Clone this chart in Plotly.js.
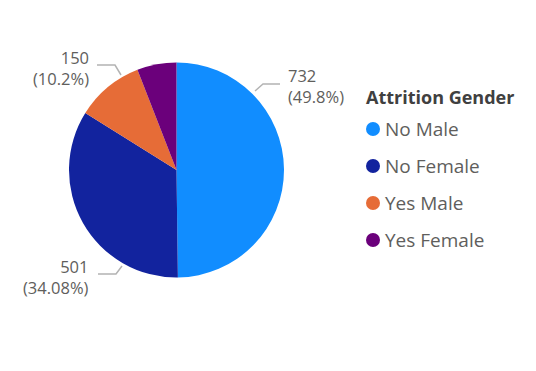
<!DOCTYPE html>
<html><head><meta charset="utf-8">
<script src="https://cdn.plot.ly/plotly-3.0.1.min.js"></script>
<style>html,body{margin:0;padding:0;background:#fff}#chart{width:536px;height:371px}</style>
</head><body><div id="chart"></div>
<script>
const categories = ["No Male", "No Female", "Yes Male", "Yes Female"];
const counts = [732, 501, 150, 87];
const percentLabels = ["49.8%", "34.08%", "10.2%", "5.92%"];
const colors = ["#118DFF", "#12239E", "#E66C37", "#6B007B"];
const legendTitle = "Attrition Gender";

const W = 536, H = 371;
const px = x => x / W, py = y => 1 - y / H;
const FONT = "'Segoe UI', 'Open Sans', sans-serif";
const textCol = "#605E5C";

// pie placement (center/radius in px)
const cx = 176.5, cy = 170, r = 107.5;

const traces = [{
  type: "pie",
  labels: categories,
  values: counts,
  marker: {colors: colors, line: {width: 0}},
  sort: false,
  direction: "clockwise",
  rotation: 0,
  textinfo: "none",
  hoverinfo: "label+value+percent",
  showlegend: false,
  domain: {x: [px(cx - r), px(cx + r)], y: [py(cy + r), py(cy - r)]}
}];

// label placement for the slices that carry outside labels
const labelSpots = [
  {i: 0, x: 286, y: 86, side: "left", line: [[255, 91], [263, 84], [280, 84]]},
  {i: 1, x: 91, y: 277, side: "right", line: [[122, 266], [116, 274], [98, 274]]},
  {i: 2, x: 91, y: 67.5, side: "right", line: [[121, 75], [115, 65], [97, 65]]}
];
const annotations = labelSpots.map(s => ({
  xref: "paper", yref: "paper", x: px(s.x), y: py(s.y),
  xanchor: s.side, yanchor: "middle", align: s.side, showarrow: false,
  text: counts[s.i] + "<br>(" + percentLabels[s.i] + ")",
  font: {family: FONT, size: 16.5, color: textCol}
}));
const shapes = labelSpots.map(s => ({
  type: "path", xref: "paper", yref: "paper",
  path: "M" + s.line.map(p => px(p[0]) + "," + py(p[1])).join(" L"),
  line: {color: "#B3B3B3", width: 1.5}
}));

// legend (title + circle markers + names)
const legX = 365, legTitleY = 97, legFirstY = 129, legStep = 37;
annotations.push({
  xref: "paper", yref: "paper", x: px(legX - 1), y: py(legTitleY),
  xanchor: "left", yanchor: "middle", showarrow: false,
  text: "<b>" + legendTitle + "</b>",
  font: {family: FONT, size: 18, color: "#404040"}
});
categories.forEach((c, i) => {
  const yy = legFirstY + i * legStep;
  shapes.push({
    type: "circle", xref: "paper", yref: "paper",
    xsizemode: "pixel", ysizemode: "pixel",
    xanchor: px(legX + 8), yanchor: py(yy),
    x0: -7, x1: 7, y0: -7, y1: 7,
    fillcolor: colors[i], line: {width: 0}
  });
  annotations.push({
    xref: "paper", yref: "paper", x: px(legX + 18), y: py(yy),
    xanchor: "left", yanchor: "middle", showarrow: false,
    text: c, font: {family: FONT, size: 19, color: textCol}
  });
});

const layout = {
  width: W, height: H,
  margin: {l: 0, r: 0, t: 0, b: 0},
  paper_bgcolor: "#fff", plot_bgcolor: "#fff",
  showlegend: false,
  annotations: annotations,
  shapes: shapes
};
Plotly.newPlot("chart", traces, layout, {displayModeBar: false, staticPlot: true});
</script></body></html>
